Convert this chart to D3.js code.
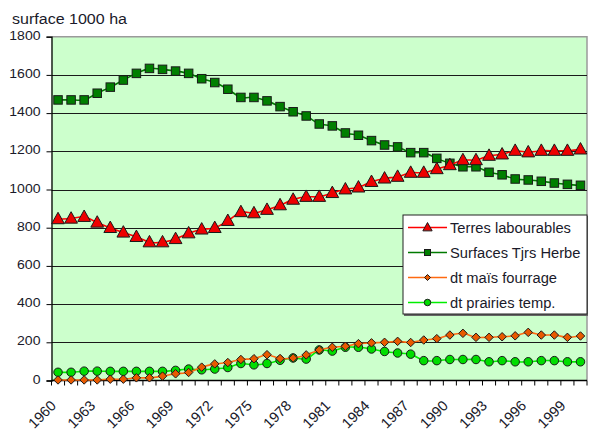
<!DOCTYPE html>
<html>
<head>
<meta charset="utf-8">
<script src="https://cdn.jsdelivr.net/npm/d3@7/dist/d3.min.js"></script>
<style>
  html, body { margin: 0; padding: 0; background: #fff; }
  svg { display: block; font-family: "Liberation Sans", Arial, sans-serif; }
</style>
</head>
<body>
<svg id="chart" width="589" height="432"></svg>
<script>
// Years on the category axis
const years = d3.range(1960, 2001);
const tickYears = [1960, 1963, 1966, 1969, 1972, 1975, 1978, 1981, 1984, 1987, 1990, 1993, 1996, 1999];
const yTicks = [0, 200, 400, 600, 800, 1000, 1200, 1400, 1600, 1800];

// Surfaces, in 1000 ha
const terresLabourables = [845, 848, 857, 827, 799, 775, 752, 724, 724, 741, 771, 791, 799, 836, 882, 876, 894, 918, 947, 962, 962, 982, 1001, 1011, 1040, 1058, 1067, 1088, 1088, 1107, 1128, 1154, 1154, 1177, 1184, 1203, 1195, 1203, 1203, 1203, 1210];
const surfacesTjrsHerbe = [1469, 1469, 1469, 1504, 1536, 1573, 1608, 1634, 1629, 1620, 1608, 1580, 1560, 1525, 1482, 1482, 1464, 1434, 1407, 1385, 1343, 1333, 1296, 1284, 1256, 1233, 1223, 1193, 1193, 1163, 1137, 1119, 1119, 1090, 1077, 1055, 1050, 1043, 1034, 1027, 1022];
const maisFourrage = [3, 3, 3, 3, 7, 7, 14, 14, 23, 35, 42, 70, 87, 94, 110, 114, 135, 115, 118, 134, 160, 174, 179, 193, 197, 200, 205, 199, 212, 219, 238, 247, 226, 226, 229, 234, 252, 238, 238, 226, 233];
const prairiesTemp = [43, 43, 49, 49, 48, 48, 48, 48, 48, 53, 60, 56, 60, 68, 89, 82, 89, 106, 118, 112, 160, 154, 174, 174, 165, 152, 144, 138, 104, 104, 110, 110, 110, 98, 104, 98, 98, 104, 104, 98, 98];

const seriesNames = ["Terres labourables", "Surfaces Tjrs Herbe", "dt maïs fourrage", "dt prairies temp."];

const series = [
  { name: seriesNames[0], values: terresLabourables, line: "#ff0000", fill: "#ee0000", shape: "triangle" },
  { name: seriesNames[1], values: surfacesTjrsHerbe, line: "#007a00", fill: "#007f00", shape: "square" },
  { name: seriesNames[2], values: maisFourrage, line: "#ff6a10", fill: "#e85a00", shape: "diamond" },
  { name: seriesNames[3], values: prairiesTemp, line: "#00ee00", fill: "#00dd00", shape: "circle" }
];

const svg = d3.select("#chart");
const plot = { left: 51.5, right: 587, top: 36.7, bottom: 380.5 };

const x = d3.scaleBand().domain(years).range([plot.left, plot.right]);
const y = d3.scaleLinear().domain([0, 1800]).range([plot.bottom, plot.top]);
const cx = d => x(d) + x.bandwidth() / 2;

// Widen text horizontally by a fixed factor
function stretch(sel, k) {
  sel.each(function() {
    const w = this.getComputedTextLength();
    d3.select(this).attr("textLength", w * k).attr("lengthAdjust", "spacingAndGlyphs");
  });
}

// Plot background
svg.append("rect")
  .attr("x", plot.left).attr("y", plot.top)
  .attr("width", plot.right - plot.left).attr("height", plot.bottom - plot.top)
  .attr("fill", "#ccffcc");

// Frame on top and right
svg.append("path")
  .attr("d", `M${plot.left},${plot.top}H${plot.right}V${plot.bottom}`)
  .attr("fill", "none").attr("stroke", "#9a9a9a").attr("stroke-width", 1.5);

// Horizontal gridlines
svg.append("g").selectAll("line")
  .data(yTicks.filter(v => v > 0 && v < 1800))
  .join("line")
  .attr("x1", plot.left).attr("x2", plot.right)
  .attr("y1", d => Math.round(y(d)) + 0.5).attr("y2", d => Math.round(y(d)) + 0.5)
  .attr("stroke", "#1a1a1a").attr("stroke-width", 1);

// Y axis
const yAxis = d3.axisLeft(y).tickValues(yTicks).tickSize(5).tickFormat(d3.format("d"));
const gy = svg.append("g").attr("transform", `translate(${plot.left},0)`).call(yAxis);
gy.select(".domain").attr("stroke", "#000").attr("stroke-width", 1.3);
gy.selectAll(".tick line").attr("stroke", "#000");
gy.selectAll(".tick text")
  .attr("font-size", 13).attr("fill", "#1a1a2a")
  .attr("x", -11).attr("dy", "0.2em")
  .attr("font-family", "Liberation Sans, Arial, sans-serif");
stretch(gy.selectAll(".tick text"), 1.08);

// X axis: ticks between categories
const gx = svg.append("g").attr("transform", `translate(0,${plot.bottom})`);
gx.append("line").attr("x1", plot.left).attr("x2", plot.right)
  .attr("stroke", "#000").attr("stroke-width", 1.3);
gx.selectAll(".xt")
  .data(years.concat([2001]))
  .join("line")
  .attr("class", "xt")
  .attr("x1", d => d === 2001 ? plot.right : x(d))
  .attr("x2", d => d === 2001 ? plot.right : x(d))
  .attr("y1", 0).attr("y2", 5)
  .attr("stroke", "#000");
gx.selectAll(".xl")
  .data(tickYears)
  .join("text")
  .attr("class", "xl")
  .attr("transform", d => `translate(${cx(d) - 1},${26}) rotate(-45)`)
  .attr("text-anchor", "end")
  .attr("font-size", 14.5).attr("fill", "#1a1a2a")
  .text(d => d);

// Series lines (smoothed) and markers
const line = d3.line()
  .x((d, i) => cx(years[i]))
  .y(d => y(d))
  .curve(d3.curveCardinal.tension(0.3));

function marker(sel, shape, size) {
  const s = size;
  if (shape === "triangle") {
    sel.append("path").attr("d", `M0,${-s * 0.62}L${s * 0.58},${s * 0.42}L${-s * 0.58},${s * 0.42}Z`);
  } else if (shape === "square") {
    sel.append("rect").attr("x", -s / 2).attr("y", -s / 2).attr("width", s).attr("height", s);
  } else if (shape === "diamond") {
    sel.append("path").attr("d", `M0,${-s / 2}L${s / 2},0L0,${s / 2}L${-s / 2},0Z`);
  } else {
    sel.append("circle").attr("r", s / 2);
  }
}

const markerSize = { triangle: 11, square: 8.5, diamond: 8.5, circle: 8.5 };

// Draw back to front so the first series sits on top
[3, 2, 1, 0].forEach(k => {
  const s = series[k];
  const g = svg.append("g");
  g.append("path").datum(s.values)
    .attr("d", line)
    .attr("fill", "none").attr("stroke", s.line).attr("stroke-width", 1.6);
  g.selectAll("g.m").data(s.values).join("g")
    .attr("class", "m")
    .attr("transform", (d, i) => `translate(${cx(years[i])},${y(d)})`)
    .each(function() { marker(d3.select(this), s.shape, markerSize[s.shape]); })
    .selectAll("*")
    .attr("fill", s.fill).attr("stroke", "#1a1a1a").attr("stroke-width", 1);
});

// Axis title
svg.append("text")
  .attr("x", 12).attr("y", 24)
  .attr("font-size", 14).attr("fill", "#1a1a2a")
  .attr("textLength", 115).attr("lengthAdjust", "spacingAndGlyphs")
  .text("surface 1000 ha");

// Legend
const legend = svg.append("g");
legend.append("rect")
  .attr("x", 404).attr("y", 216).attr("width", 184).attr("height", 100)
  .attr("fill", "#666");
legend.append("rect")
  .attr("x", 403).attr("y", 215).attr("width", 184).attr("height", 99)
  .attr("fill", "#fff").attr("stroke", "#222").attr("stroke-width", 1);
const legendSize = { triangle: 8, square: 6, diamond: 6, circle: 6.5 };
series.forEach((s, i) => {
  const ly = 227.5 + i * 25;
  const row = legend.append("g");
  row.append("line").attr("x1", 408).attr("x2", 447).attr("y1", ly).attr("y2", ly)
    .attr("stroke", s.line).attr("stroke-width", 1.4);
  const m = row.append("g").attr("transform", `translate(427.5,${ly})`);
  marker(m, s.shape, legendSize[s.shape]);
  m.selectAll("*").attr("fill", s.fill).attr("stroke", "#1a1a1a").attr("stroke-width", 1);
  row.append("text")
    .attr("x", 450).attr("y", ly).attr("dy", "0.36em")
    .attr("font-size", 14).attr("fill", "#1a1a2a")
    .text(s.name);
});
stretch(legend.selectAll("text"), 1.05);
</script>
</body>
</html>
